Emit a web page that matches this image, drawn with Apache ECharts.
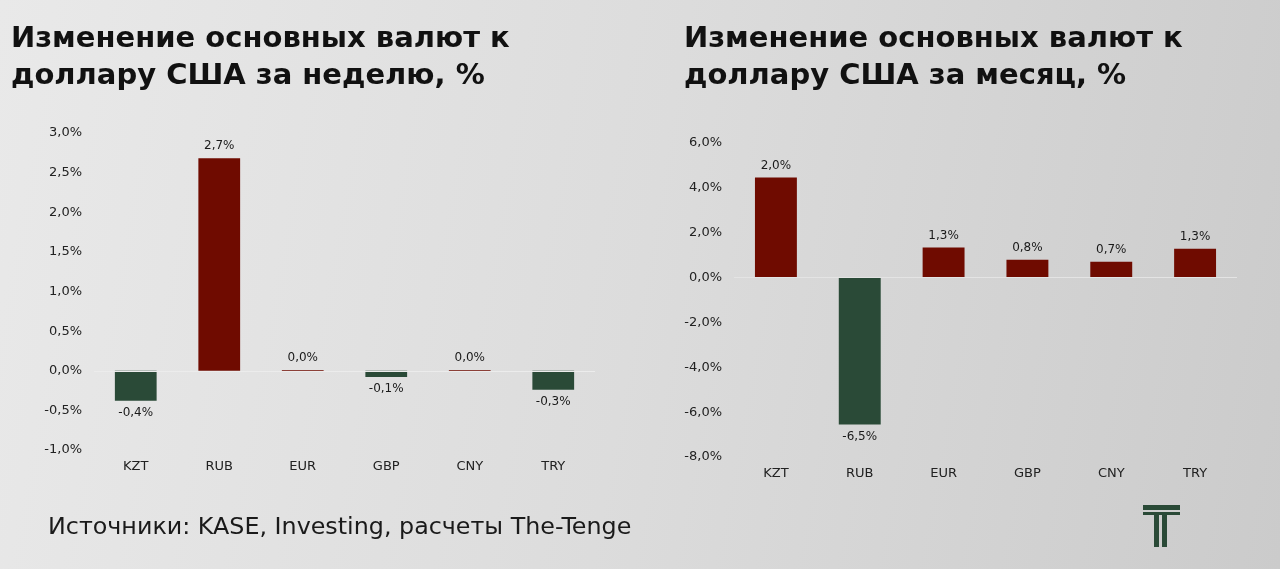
<!DOCTYPE html>
<html><head><meta charset="utf-8">
<script src="https://cdn.jsdelivr.net/npm/echarts@6/dist/echarts.min.js"></script>
<style>
html,body{margin:0;padding:0;}
body{width:1280px;height:569px;background:linear-gradient(100deg,#e9e9e9 0%,#dcdcdc 50%,#cbcbcb 100%);}
#c{width:1280px;height:569px;}
</style></head>
<body><div id="c"></div>
<script>
const categories = ['KZT','RUB','EUR','GBP','CNY','TRY'];
const weekValues = [-0.38, 2.68, 0.01, -0.08, 0.01, -0.24];
const weekLabels = ['-0,4%','2,7%','0,0%','-0,1%','0,0%','-0,3%'];
const monthValues = [4.46, -6.55, 1.34, 0.80, 0.71, 1.29];
const monthLabels = ['2,0%','-6,5%','1,3%','0,8%','0,7%','1,3%'];
const titleWeek = 'Изменение основных валют к\nдоллару США за неделю, %';
const titleMonth = 'Изменение основных валют к\nдоллару США за месяц, %';
const sourceText = 'Источники: KASE, Investing, расчеты The-Tenge';

const RED = '#6f0b00', GREEN = '#2a4a37';
const FONT = 'DejaVu Sans';
const fmt = v => v.toFixed(1).replace('.', ',') + '%';

function mkData(vals, labels){
  return vals.map((v,i)=>({
    value: v,
    itemStyle: {color: v >= 0 ? RED : GREEN},
    label: {show: true, position: v >= 0 ? 'top' : 'bottom', formatter: labels[i], distance: 6,
      fontFamily: FONT, fontSize: 12, color: '#1a1a1a'}
  }));
}

const chart = echarts.init(document.getElementById('c'), null, {renderer:'canvas'});
chart.setOption({
  backgroundColor: 'transparent',
  animation: false,
  title: [
    {text: titleWeek, left: 6, top: 16, textStyle: {fontFamily: FONT, fontWeight: 'bold', fontSize: 29, lineHeight: 37, color: '#111'}},
    {text: titleMonth, left: 679, top: 16, textStyle: {fontFamily: FONT, fontWeight: 'bold', fontSize: 29, lineHeight: 37, color: '#111'}},
    {text: sourceText, left: 43, top: 511, textStyle: {fontFamily: FONT, fontWeight: 'normal', fontSize: 23.8, color: '#1a1a1a'}}
  ],
  grid: [
    {left: 94, right: 1280-595, top: 133, bottom: 569-450},
    {left: 734, right: 1280-1237, top: 143, bottom: 569-457}
  ],
  xAxis: [
    {type: 'category', gridIndex: 0, data: categories, position: 'bottom', offset: 0,
     axisLine: {show: false}, axisTick: {show: false},
     axisLabel: {fontFamily: FONT, fontSize: 13, color: '#222', margin: 10}},
    {type: 'category', gridIndex: 1, data: categories, position: 'bottom',
     axisLine: {show: false}, axisTick: {show: false},
     axisLabel: {fontFamily: FONT, fontSize: 13, color: '#222', margin: 10}}
  ],
  yAxis: [
    {type: 'value', gridIndex: 0, min: -1, max: 3, interval: 0.5,
     splitLine: {show: false}, axisLine: {show: false}, axisTick: {show: false},
     axisLabel: {formatter: fmt, fontFamily: FONT, fontSize: 13, color: '#222', margin: 12}},
    {type: 'value', gridIndex: 1, min: -8, max: 6, interval: 2,
     splitLine: {show: false}, axisLine: {show: false}, axisTick: {show: false},
     axisLabel: {formatter: fmt, fontFamily: FONT, fontSize: 13, color: '#222', margin: 12}}
  ],
  series: [
    {type: 'bar', xAxisIndex: 0, yAxisIndex: 0, barWidth: '50%', data: mkData(weekValues, weekLabels),
     markLine: {silent: true, symbol: 'none', label: {show: false}, lineStyle: {color: '#ececec', type: 'solid', width: 1}, data: [{yAxis: 0}]}, z: 3},
    {type: 'bar', xAxisIndex: 1, yAxisIndex: 1, barWidth: '50%', data: mkData(monthValues, monthLabels),
     markLine: {silent: true, symbol: 'none', label: {show: false}, lineStyle: {color: '#e4e4e4', type: 'solid', width: 1}, data: [{yAxis: 0}]}, z: 3}
  ],
  graphic: [
    {type: 'group', left: 1143, top: 505, children: [
      {type: 'rect', shape: {x: 0, y: 0, width: 37, height: 5}, style: {fill: GREEN}},
      {type: 'rect', shape: {x: 0, y: 7, width: 37, height: 3}, style: {fill: GREEN}},
      {type: 'rect', shape: {x: 11, y: 7, width: 5, height: 35}, style: {fill: GREEN}},
      {type: 'rect', shape: {x: 19, y: 7, width: 5, height: 35}, style: {fill: GREEN}}
    ]}
  ]
});
</script>
</body></html>
